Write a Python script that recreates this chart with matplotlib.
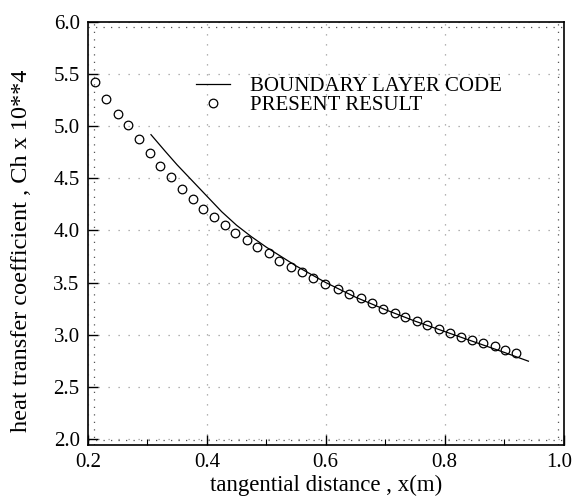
import numpy as np
import matplotlib
matplotlib.use("Agg")
import matplotlib.pyplot as plt
from matplotlib.ticker import MultipleLocator
import matplotlib.transforms as mtransforms

plt.rcParams['font.family'] = ['Liberation Serif', 'DejaVu Serif']

# boundary layer code (solid line)
bl_x = [0.306, 0.330, 0.350, 0.375, 0.400, 0.425, 0.450, 0.475, 0.500, 0.550,
        0.600, 0.650, 0.700, 0.750, 0.800, 0.850, 0.900, 0.941]
bl_y = [4.92, 4.76, 4.63, 4.48, 4.33, 4.18, 4.05, 3.94, 3.84, 3.66,
        3.50, 3.36, 3.24, 3.13, 3.03, 2.93, 2.83, 2.745]

# present result (open circles)
pr_x = [0.212, 0.231, 0.250, 0.268, 0.286, 0.304, 0.322, 0.340, 0.358, 0.376,
        0.394, 0.412, 0.430, 0.448, 0.467, 0.485, 0.504, 0.522, 0.541, 0.560,
        0.579, 0.599, 0.620, 0.639, 0.659, 0.678, 0.697, 0.716, 0.734, 0.753,
        0.771, 0.790, 0.809, 0.828, 0.846, 0.865, 0.884, 0.902, 0.920]
pr_y = [5.43, 5.26, 5.12, 5.01, 4.88, 4.74, 4.62, 4.51, 4.40, 4.30,
        4.21, 4.13, 4.05, 3.98, 3.91, 3.84, 3.78, 3.71, 3.65, 3.60,
        3.54, 3.49, 3.44, 3.39, 3.35, 3.30, 3.25, 3.21, 3.17, 3.13,
        3.09, 3.05, 3.02, 2.98, 2.95, 2.92, 2.89, 2.85, 2.82]

xticks = [0.2, 0.4, 0.6, 0.8, 1.0]
yticks = [2.0, 2.5, 3.0, 3.5, 4.0, 4.5, 5.0, 5.5, 6.0]

fig = plt.figure(figsize=(5.75, 5.04), dpi=100)
ax = fig.add_axes([0.153, 0.117, 0.827, 0.839])

ax.plot(bl_x, bl_y, color='black', lw=0.9, label='BOUNDARY LAYER CODE')
ax.plot(pr_x, pr_y, ls='none', marker='o', ms=6.2, mfc='none', mec='black',
        mew=0.9, label='PRESENT RESULT')

ax.set_xlim(0.2, 1.0)
ax.set_ylim(1.94, 6.0)
ax.set_xticks(xticks)
ax.set_yticks(yticks)
ax.set_xticklabels([f'{t:.1f}' for t in xticks])
ax.set_yticklabels([f'{t:.1f}' for t in yticks])
ax.xaxis.set_minor_locator(MultipleLocator(0.1))
ax.tick_params(which='major', direction='in', length=7, width=1, labelsize=15, pad=6)
ax.tick_params(which='minor', direction='in', length=4, width=0.8)
ax.tick_params(axis='y', which='minor', left=False)

# keep the last x tick label inside the picture
last = ax.get_xticklabels()[-1]
last.set_transform(last.get_transform() +
                   mtransforms.ScaledTranslation(-4 / 100, 0, fig.dpi_scale_trans))

# faint dotted grid, as in the scanned original
ax.grid(True, which='major', color='#9a9a9a', ls=(0, (1, 7)), lw=0.9)

# dotted inner frame
dot = dict(color='#555555', ls=(0, (1, 5)), lw=0.9)
ax.axvline(0.2 + 0.012 * 0.8, **dot)
ax.axvline(1.0 - 0.012 * 0.8, **dot)
ax.axhline(1.94 + 0.012 * 4.06, **dot)
ax.axhline(6.0 - 0.012 * 4.06, **dot)

for s in ax.spines.values():
    s.set_linewidth(1.2)

ax.set_xlabel('tangential distance , x(m)', fontsize=16.5, labelpad=2)
ax.set_ylabel('heat transfer coefficient , Ch x 10**4', fontsize=17.5)
ax.yaxis.set_label_coords(-0.117, 0.459)

ax.legend(loc='upper left', bbox_to_anchor=(0.228, 0.872), frameon=False,
          fontsize=15, borderpad=0, borderaxespad=0, handlelength=1.6,
          handletextpad=0.95, labelspacing=0.0)

fig.savefig('out.png', dpi=100)
